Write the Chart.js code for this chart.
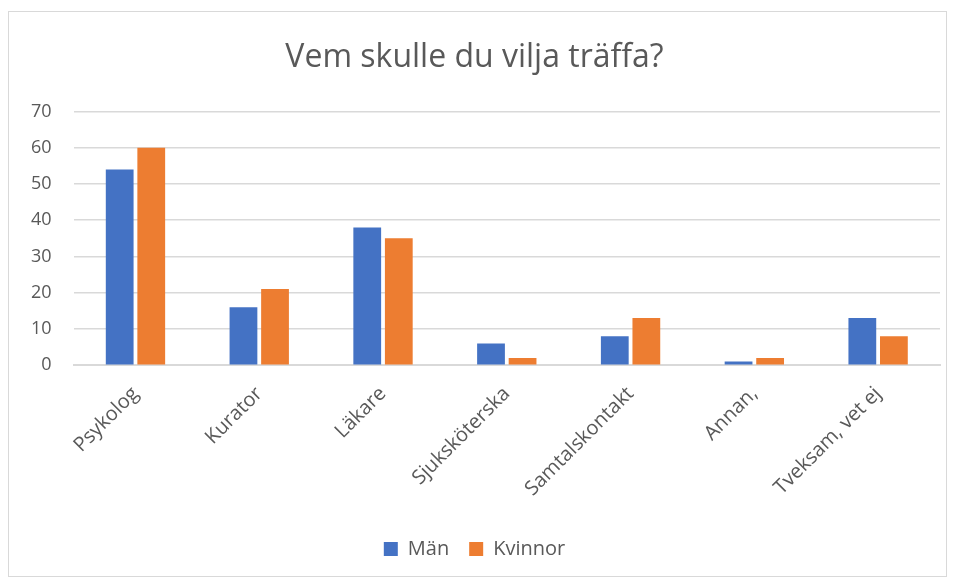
<!DOCTYPE html>
<html>
<head>
<meta charset="utf-8">
<script src="https://cdn.jsdelivr.net/npm/chart.js@4"></script>
<style>
  html, body { margin: 0; padding: 0; background: #fff; }
  #frame { position: absolute; left: 8px; top: 11px; width: 939px; height: 566px; border: 1px solid #d9d9d9; box-sizing: border-box; }
  #wrap { position: absolute; left: 9px; top: 12px; width: 937px; height: 564px; }
</style>
</head>
<body>
<div id="frame"></div>
<div id="wrap"><canvas id="c"></canvas></div>
<script>
const categories = ["Psykolog", "Kurator", "Läkare", "Sjuksköterska", "Samtalskontakt", "Annan,", "Tveksam, vet ej"];
const man = [54, 16, 38, 6, 8, 1, 13];
const kvinnor = [60, 21, 35, 2, 13, 2, 8];
const titleText = "Vem skulle du vilja träffa?";

const FONT = "'Open Sans', 'Liberation Sans', sans-serif";
const GREY = "#595959";

new Chart(document.getElementById('c'), {
  type: 'bar',
  data: {
    labels: categories,
    datasets: [
      { label: "Män", data: man, backgroundColor: "#4472c4", categoryPercentage: 0.51, barPercentage: 0.88 },
      { label: "Kvinnor", data: kvinnor, backgroundColor: "#ed7d31", categoryPercentage: 0.51, barPercentage: 0.88 }
    ]
  },
  options: {
    responsive: true,
    maintainAspectRatio: false,
    animation: false,
    layout: { padding: { left: 0, right: 6, top: 0, bottom: 7 } },
    plugins: {
      title: { display: true, text: titleText, color: GREY, font: { family: FONT, size: 32, weight: 'normal' }, padding: { top: 27, bottom: 34 } },
      legend: {
        position: 'bottom',
        labels: { color: GREY, font: { family: FONT, size: 20 }, boxWidth: 14, boxHeight: 14, padding: 20 }
      },
      tooltip: { enabled: false }
    },
    scales: {
      x: {
        grid: { display: false },
        border: { color: '#d9d9d9', width: 2 },
        ticks: { color: GREY, font: { family: FONT, size: 20 }, minRotation: 45, maxRotation: 45, padding: 9 },
        afterFit: (s) => { s.height += 9; }
      },
      y: {
        min: 0, max: 70,
        grid: { color: '#d9d9d9', lineWidth: 1.5, drawTicks: false },
        border: { display: false },
        ticks: { stepSize: 10, color: GREY, font: { family: FONT, size: 18 }, padding: 22 }
      }
    }
  }
});
</script>
</body>
</html>
